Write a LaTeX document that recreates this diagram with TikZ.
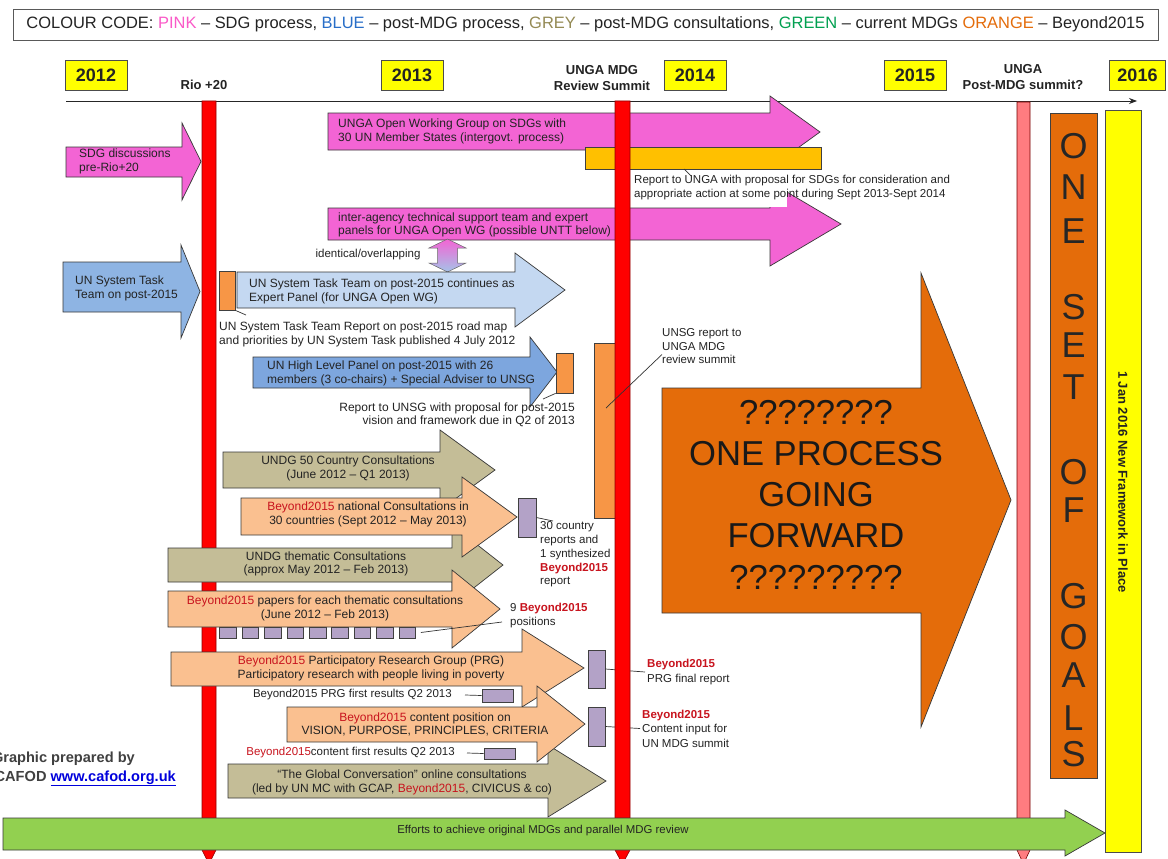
\documentclass[tikz,border=0pt]{standalone}
\usepackage{fontspec}
\setmainfont{Liberation Sans}
\usetikzlibrary{arrows.meta,calc}
\definecolor{txtc}{RGB}{35,35,35}
\definecolor{pinkA}{RGB}{243,100,212}
\definecolor{blueA}{RGB}{142,180,227}
\definecolor{blueL}{RGB}{196,216,241}
\definecolor{blueM}{RGB}{125,166,222}
\definecolor{greyA}{RGB}{196,189,151}
\definecolor{peach}{RGB}{250,192,144}
\definecolor{orangeS}{RGB}{247,150,70}
\definecolor{lav}{RGB}{179,162,199}
\definecolor{orangeD}{RGB}{228,108,10}
\definecolor{gold}{RGB}{255,192,0}
\definecolor{greenA}{RGB}{146,208,80}
\definecolor{pinkbar}{RGB}{255,124,128}
\definecolor{beyred}{RGB}{200,20,30}
\definecolor{yellowY}{RGB}{255,255,0}
\definecolor{lgPink}{RGB}{250,90,200}
\definecolor{lgBlue}{RGB}{40,110,200}
\definecolor{lgGrey}{RGB}{148,138,84}
\definecolor{lgGreen}{RGB}{0,160,80}
\definecolor{lgOrange}{RGB}{228,108,10}
\definecolor{linkblue}{RGB}{0,0,220}
\newcommand\fsz[2]{\fontsize{#1}{#2}\selectfont}
\newcommand\bey{\textcolor{beyred}{Beyond2015}}
\newcommand\beyb{\textcolor{beyred}{\textbf{Beyond2015}}}
% style, x0, xbase, xtip, ytop, ybot, headtop, headbot
\newcommand\blockarrow[8]{\path[#1] (#2,#5) -- (#3,#5) -- (#3,#7) -- (#4,{(#7+#8)/2}) -- (#3,#8) -- (#3,#6) -- (#2,#6) -- cycle;}
\begin{document}
\begin{tikzpicture}[x=1pt,y=-1pt,
  outl/.style={draw=black!78, line width=0.7pt, line join=miter},
  pinkarrow/.style={outl, fill=pinkA},
  bluearrow/.style={outl, fill=blueA},
  lbluearrow/.style={outl, fill=blueL},
  mbluearrow/.style={outl, fill=blueM},
  greyarrow/.style={outl, fill=greyA},
  peacharrow/.style={outl, fill=peach},
  bigorange/.style={outl, fill=orangeD},
  greenarrow/.style={outl, fill=greenA},
  txt/.style={inner sep=0pt, text=txtc, font=\fsz{12}{13.5}},
  small/.style={inner sep=0pt, text=txtc, font=\fsz{11.5}{14}},
  yearbox/.style={draw=black!70, line width=0.8pt, fill=yellowY, minimum width=62pt, minimum height=30pt, inner sep=0pt, font=\bfseries\fsz{18}{20}, text=txtc},
  toplbl/.style={inner sep=0pt, font=\bfseries\fsz{13}{16}, text=txtc, align=center},
  rectbox/.style={draw=black!75, line width=0.7pt, inner sep=0pt},
  orect/.style={rectbox, fill=orangeS},
  lrect/.style={rectbox, fill=lav},
  callout/.style={draw=black!80, line width=0.7pt},
  goal/.style={inner sep=0pt, font=\fsz{36}{36}, text=black!85},
  redbar/.style={draw=red!55!black, line width=0.6pt, fill=red},
]
\useasboundingbox (0,0) rectangle (1168,859);
\clip (0,0) rectangle (1168,859);
\fill[white] (0,0) rectangle (1168,859);

% legend
\node[draw=black!65, line width=0.7pt, minimum width=1145pt, minimum height=31pt, inner sep=0pt, font=\fsz{16.45}{18}, text=txtc] (legend) at (585.5,24.5)
 {COLOUR CODE: \textcolor{lgPink}{PINK} -- SDG process, \textcolor{lgBlue}{BLUE} -- post-MDG process, \textcolor{lgGrey}{GREY} -- post-MDG consultations, \textcolor{lgGreen}{GREEN} -- current MDGs \textcolor{lgOrange}{ORANGE} -- Beyond2015};

% years and labels
\node[yearbox] (y2012) at (96,75) {2012};
\node[yearbox] (y2013) at (412,75) {2013};
\node[yearbox] (y2014) at (695,75) {2014};
\node[yearbox] (y2015) at (915,75) {2015};
\node[yearbox, minimum width=56pt] (y2016) at (1137.5,75) {2016};
\node[toplbl] (rio) at (204,85) {Rio +20};
\node[toplbl] (ungamdg) at (602,78) {UNGA MDG\\Review Summit};
\node[toplbl] (ungapost) at (1023,77) {UNGA\\Post-MDG summit?};
\coordinate (tl0) at (66,101);
\coordinate (tl1) at (1137,101);
\draw[-{Stealth[length=8pt,width=6pt]}, line width=0.8pt, black!85] (tl0) -- (tl1);

% Rio+20 bar
\path[redbar] (202,101) -- (216,101) -- (216,850) -- (209,864) -- (202,850) -- cycle;

% pink / blue left arrows
\blockarrow{pinkarrow}{66}{182}{201}{147}{177}{123}{200}
\node[txt, anchor=west, align=left] (sdgtxt) at (79,161.5) {SDG discussions\\pre-Rio+20};
\blockarrow{bluearrow}{63}{181}{200}{262}{312}{245}{338}
\node[txt, anchor=west, align=left] (usttleft) at (75,288.5) {UN System Task\\Team on post-2015};

% Open Working Group
\blockarrow{pinkarrow}{328}{770}{820}{113}{150}{96}{168}
\node[txt, anchor=west, align=left] (owg) at (338,131.5) {UNGA Open Working Group on SDGs with\\30 UN Member States (intergovt. process)};
\node[draw=black!75, line width=0.7pt, fill=gold, minimum width=236pt, minimum height=22pt, inner sep=0pt] (goldbar) at (703,158) {};

% inter-agency
\blockarrow{pinkarrow}{328}{770}{841}{208}{240}{182}{266}
\node[txt, anchor=west, align=left] (interag) at (338,225) {inter-agency technical support team and expert\\panels for UNGA Open WG (possible UNTT below)};
\fill[white] (630,174) rectangle (787,207);
\node[small, anchor=west, align=left] (rep) at (634,187.5) {Report to UNGA with proposal for SDGs for consideration and\\appropriate action at some point during Sept 2013-Sept 2014};
\coordinate (g1) at (684,169);
\coordinate (g2) at (691,176);
\draw[callout] (g1) -- (g2);

% identical/overlapping double arrow
\shade[top color=pinkA, bottom color=blueA!80, draw=black!60, line width=0.5pt]
 (447.5,239) -- (466,248) -- (457.5,248) -- (457.5,263) -- (466,263) -- (447.5,272) -- (429,263) -- (437.5,263) -- (437.5,248) -- (429,248) -- cycle;
\node[small] (ident) at (368,255) {identical/overlapping};

% UN System Task Team continues
\blockarrow{lbluearrow}{237}{515}{565}{272}{308}{253}{327}
\node[orect, minimum width=16pt, minimum height=39pt] (ustt) at (227,290.5) {};
\node[txt, anchor=west, align=left] (usttcont) at (249,291.5) {UN System Task Team on post-2015 continues as\\Expert Panel (for UNGA Open WG)};
\node[txt, anchor=west, align=left] (usttrep) at (219,334.5) {UN System Task Team Report on post-2015 road map\\and priorities by UN System Task published 4 July 2012};
\coordinate (ustt2) at (246,315);
\draw[callout] (ustt.south east) -- (ustt2);

% High level panel
\blockarrow{mbluearrow}{253}{530}{557}{357}{388}{337}{407}
\node[txt, anchor=west, align=left] (hlp) at (267,373.5) {UN High Level Panel on post-2015 with 26\\members (3 co-chairs) + Special Adviser to UNSG};
\node[orect, minimum width=17pt, minimum height=40pt] (hlprect) at (564.5,373) {};
\node[txt, anchor=east, align=right] (hlprep) at (575,415) {Report to UNSG with proposal for post-2015\\vision and framework due in Q2 of 2013};
\coordinate (hlp2) at (543,399);
\draw[callout] (hlprect.south west) -- (hlp2);

% big orange arrow
\blockarrow{bigorange}{662}{921}{1011}{388}{613}{273}{727}
\node[inner sep=0pt, align=center, font=\fsz{34.6}{41.25}, text=black!90] (onep) at (816,494.5) {????????\\ONE PROCESS\\GOING\\FORWARD\\?????????};

% tall orange rect
\node[orect, minimum width=22pt, minimum height=175pt] (unsgrect) at (605,430.5) {};
\node[small, anchor=west, align=left, font=\fsz{11.5}{13.5}] (unsgtxt) at (662,346.5) {UNSG report to\\UNGA MDG\\review summit};

% consultations
\blockarrow{greyarrow}{223}{440}{495}{452}{488}{430}{510}
\node[txt, align=center] (undg50) at (348,468.5) {UNDG 50 Country Consultations\\(June 2012 -- Q1 2013)};
\blockarrow{greyarrow}{168}{452}{503}{548}{582}{525}{605}
\node[txt, align=center] (undgth) at (326,564) {UNDG thematic Consultations\\(approx May 2012 -- Feb 2013)};
\blockarrow{peacharrow}{241}{462}{517}{498}{535}{477}{557}
\node[txt, align=center] (b15nat) at (368,514.5) {\bey{} national Consultations in\\30 countries (Sept 2012 -- May 2013)};
\blockarrow{peacharrow}{168}{452}{500}{591}{627}{570}{648}
\node[txt, align=center] (b15pap) at (325,608.5) {\bey{} papers for each thematic consultations\\(June 2012 -- Feb 2013)};
\foreach \i in {1,...,9} {
  \node[lrect, minimum width=16.5pt, minimum height=11pt] (sq\i) at ({228+22.4*(\i-1)},632.5) {};
}
\blockarrow{peacharrow}{171}{522}{584}{652}{686}{629}{707}
\node[txt, align=center] (prg) at (371,668.5) {\bey{} Participatory Research Group (PRG)\\Participatory research with people living in poverty};
\blockarrow{greyarrow}{228}{548}{606}{764}{798}{745}{817}
\node[txt, align=center] (glob) at (402,782.5) {``The Global Conversation'' online consultations\\(led by UN MC with GCAP, \bey, CIVICUS \& co)};
\blockarrow{peacharrow}{287}{537}{585}{707}{742}{686}{762}
\node[txt, align=center] (cont) at (425,724.5) {\bey{} content position on\\VISION, PURPOSE, PRINCIPLES, CRITERIA};

% notes for consultations
\node[lrect, minimum width=18pt, minimum height=39pt] (natrect) at (527,517.5) {};
\node[small, anchor=west, align=left, font=\fsz{11.5}{13.8}] (natnote) at (540,554.5) {30 country\\reports and\\1 synthesized\\\beyb\\report};
\coordinate (nat2) at (553,521);
\draw[callout] (natrect.east) -- (nat2);
\node[small, anchor=west, align=left, font=\fsz{11.5}{14.5}] (posn) at (510,615.5) {9 \beyb\\positions};
\coordinate (pos2) at (502,622);
\draw[callout] ([xshift=5pt]sq9.east) -- (pos2);

\node[lrect, minimum width=17pt, minimum height=38pt] (prgrect) at (596.5,669) {};
\node[small, anchor=west, align=left, inner xsep=2pt, font=\fsz{11.5}{15}] (prgnote) at (645,672) {\beyb\\PRG final report};
\draw[callout] (prgrect.east) -- (prgnote.west);
\node[small, anchor=east] (prgfirst) at (452,695) {Beyond2015 PRG first results Q2 2013};
\node[lrect, minimum width=31pt, minimum height=13pt] (prgsmall) at (497.5,695.5) {};
\draw[callout] ([xshift=13pt]prgfirst.east) -- (prgsmall.west);

\node[lrect, minimum width=17pt, minimum height=39pt] (ctrect) at (596.5,726.5) {};
\node[small, anchor=west, align=left, inner xsep=2pt, font=\fsz{11.5}{14.5}] (ctnote) at (640,728.5) {\beyb\\Content input for\\UN MDG summit};
\draw[callout] (ctrect.east) -- (ctnote.west);
\node[small, anchor=east] (ctfirst) at (455,753) {\bey content first results Q2 2013};
\node[lrect, minimum width=31pt, minimum height=11pt] (ctsmall) at (499.5,753.5) {};
\draw[callout] ([xshift=12pt]ctfirst.east) -- (ctsmall.west);

% MDG review bar
\path[redbar] (615,101) -- (630,101) -- (630,850) -- (622.5,864) -- (615,850) -- cycle;
\coordinate (unsg2) at (606,408);
\draw[callout] ([yshift=-8pt]unsgtxt.west) -- (unsg2);

% post-MDG summit bar
\path[draw=red!45!black, line width=0.6pt, fill=pinkbar] (1017,102) -- (1030,102) -- (1030,850) -- (1023.5,864) -- (1017,850) -- cycle;

% ONE SET OF GOALS
\node[draw=black!75, line width=0.7pt, fill=orangeD, minimum width=47pt, minimum height=665pt, inner sep=0pt] (osog) at (1073.5,445.5) {};
\foreach \l/\yy in {O/146,N/187,E/231,S/307,E/345,T/387,O/472,F/510,G/596,O/637,A/675,L/718,S/754} {
  \node[goal] at (1073.5,\yy) {\l};
}

% yellow framework bar
\node[draw=black!70, line width=0.7pt, fill=yellowY, minimum width=36pt, minimum height=742pt, inner sep=0pt] (newfw) at (1123,481) {};
\node[inner sep=0pt, rotate=-90, font=\bfseries\fsz{13}{14}, text=txtc] (newfwtxt) at (1123,482) {1 Jan 2016 New Framework in Place};

% green arrow
\blockarrow{greenarrow}{3}{1065}{1105}{818}{850}{810}{856}
\node[inner sep=0pt, text=txtc, font=\fsz{11.4}{13}] (mdgs) at (543,831) {Efforts to achieve original MDGs and parallel MDG review};

% credit
\node[anchor=base east, inner sep=0pt, font=\bfseries\fsz{14.6}{16}, text=black!75] (gp1) at (135,762) {Graphic prepared by};
\node[anchor=base east, inner sep=0pt, font=\bfseries\fsz{14.6}{16}, text=black!75] (gp2) at (176,781) {CAFOD \textcolor{linkblue}{\underline{www.cafod.org.uk}}};
\end{tikzpicture}
\end{document}
